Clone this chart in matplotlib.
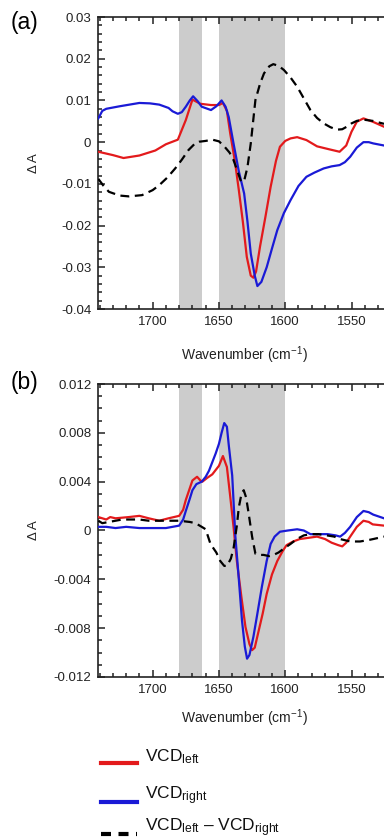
import numpy as np
import matplotlib
matplotlib.use('Agg')
import matplotlib.pyplot as plt
from matplotlib.lines import Line2D
from matplotlib.ticker import MultipleLocator, FixedLocator, FixedFormatter

plt.rcParams['font.family'] = ['Liberation Sans', 'DejaVu Sans']
plt.rcParams['mathtext.fontset'] = 'custom'
plt.rcParams['mathtext.rm'] = 'Liberation Sans'

# ---- panel (a) ----
a_red_wn = [1741, 1730, 1722, 1710, 1698, 1690, 1681, 1675, 1670, 1664, 1656, 1650, 1647, 1644,
            1641.5, 1638, 1635, 1632, 1629, 1626, 1624, 1622, 1619, 1615, 1611, 1607, 1604, 1600,
            1596, 1591, 1584, 1576, 1567, 1559, 1554, 1550, 1546, 1541, 1534, 1525.5]
a_red = [-0.0023, -0.0031, -0.0038, -0.0032, -0.0020, -0.0005, 0.0006, 0.0053, 0.0102, 0.0092,
         0.0089, 0.0089, 0.0094, 0.0075, 0.0021, -0.0045, -0.0115, -0.0190, -0.0275, -0.0320,
         -0.0325, -0.0310, -0.0250, -0.0180, -0.0107, -0.0045, -0.0011, 0.0003, 0.0009, 0.0012,
         0.0005, -0.0010, -0.0017, -0.0023, -0.0008, 0.0025, 0.0049, 0.0057, 0.0049, 0.0037]

a_blue_wn = [1741, 1738, 1735, 1725, 1710, 1702, 1695, 1688, 1685, 1681, 1678, 1675, 1672, 1669.5,
             1666, 1663, 1656, 1652, 1648, 1645, 1642.6, 1639, 1635, 1631, 1628.5, 1626, 1623,
             1621, 1618, 1614, 1610, 1606, 1601, 1596, 1590, 1584, 1578, 1571, 1565, 1559, 1555,
             1551, 1546, 1541, 1537, 1533.6, 1525.5]
a_blue = [0.0057, 0.0075, 0.0080, 0.0086, 0.0094, 0.0093, 0.0090, 0.0082, 0.0074, 0.0068, 0.0072,
          0.0085, 0.0100, 0.0110, 0.0098, 0.0085, 0.0077, 0.0086, 0.0100, 0.0085, 0.0060, -0.0003,
          -0.0070, -0.0123, -0.0190, -0.0267, -0.0320, -0.0345, -0.0335, -0.0300, -0.0255,
          -0.0211, -0.0170, -0.0139, -0.0105, -0.0083, -0.0073, -0.0063, -0.0058, -0.0055,
          -0.0048, -0.0035, -0.0013, 0.0000, 0.0000, -0.0003, -0.0008]

a_diff_wn = [1741, 1737, 1733, 1725, 1718, 1708, 1700, 1695, 1689, 1683, 1678, 1673, 1668, 1665,
             1660, 1655, 1650, 1646, 1642, 1639, 1636, 1633.3, 1631, 1628.5, 1626, 1622.5, 1619,
             1616, 1612, 1609, 1605, 1601, 1596, 1591, 1586, 1581, 1576, 1571, 1566, 1561, 1557,
             1553.6, 1550, 1546, 1541, 1534, 1525.5]
a_diff = [-0.0088, -0.0105, -0.0119, -0.0128, -0.0130, -0.0127, -0.0115, -0.0103, -0.0085,
          -0.0063, -0.0042, -0.0019, -0.0003, 0.0001, 0.0003, 0.0006, 0.0002, -0.0010, -0.0025,
          -0.0043, -0.0070, -0.0095, -0.0093, -0.0060, -0.0003, 0.0101, 0.0140, 0.0165, 0.0182,
          0.0187, 0.0183, 0.0173, 0.0155, 0.0133, 0.0105, 0.0077, 0.0058, 0.0045, 0.0036, 0.0030,
          0.0031, 0.0037, 0.0045, 0.0051, 0.0054, 0.0051, 0.0044]

# ---- panel (b) ----
b_red_wn = [1741, 1735, 1732, 1728, 1718, 1710, 1703, 1695, 1688, 1680, 1677, 1675, 1670, 1666.5,
            1664, 1662.5, 1659, 1655, 1650, 1647, 1644, 1641.4, 1639, 1636.5, 1633, 1630, 1627,
            1625, 1623, 1620, 1617, 1614, 1610, 1606, 1602, 1599, 1594, 1589, 1576, 1570, 1565,
            1560, 1557, 1554, 1551, 1546, 1541, 1537, 1534, 1525.5]
b_red = [0.0011, 0.0009, 0.0011, 0.0010, 0.0011, 0.0012, 0.0010, 0.0008, 0.0010, 0.0012, 0.0017,
         0.0025, 0.0041, 0.0044, 0.0041, 0.0040, 0.0043, 0.0046, 0.0053, 0.0061, 0.0052, 0.0027,
         0.0003, -0.0025, -0.0055, -0.0079, -0.0093, -0.0098, -0.0096, -0.0082, -0.0068,
         -0.0052, -0.0036, -0.0025, -0.0017, -0.0012, -0.0009, -0.0007, -0.0005, -0.0007,
         -0.0010, -0.0012, -0.0013, -0.0010, -0.0005, 0.0003, 0.0008, 0.0007, 0.0005, 0.0004]

b_blue_wn = [1741, 1735, 1728, 1720, 1710, 1700, 1690, 1680, 1677, 1675, 1672, 1670, 1667, 1663,
             1660, 1657.5, 1655, 1652.5, 1650, 1648, 1646, 1644, 1642.6, 1640, 1637.6, 1635,
             1632.6, 1630.5, 1628.8, 1627, 1624, 1621, 1617.6, 1614, 1611, 1608, 1604, 1598, 1591,
             1586, 1581, 1575, 1568, 1562, 1558.6, 1555, 1551, 1546, 1541, 1537, 1533.6, 1525.5]
b_blue = [0.0003, 0.0003, 0.0002, 0.0003, 0.0002, 0.0002, 0.0002, 0.0004, 0.0009, 0.0016, 0.0026,
          0.0033, 0.0038, 0.0040, 0.0044, 0.0049, 0.0056, 0.0063, 0.0071, 0.0080, 0.0088, 0.0085,
          0.0070, 0.0045, -0.0005, -0.0040, -0.0074, -0.0095, -0.0105, -0.0102, -0.0087,
          -0.0068, -0.0046, -0.0025, -0.0011, -0.0005, -0.0001, 0.0000, 0.0001, 0.0000,
          -0.0003, -0.0003, -0.0003, -0.0004, -0.0005, -0.0002, 0.0003, 0.0011, 0.0016, 0.0015,
          0.0013, 0.0010]

b_diff_wn = [1741, 1738, 1733, 1728, 1723, 1716, 1710, 1703, 1698, 1690, 1680, 1672, 1667.7,
             1663, 1660, 1656.4, 1652, 1649, 1646, 1643.9, 1641, 1638.9, 1636.5, 1635, 1633,
             1631.3, 1629.5, 1627.6, 1625, 1622.5, 1619, 1616.3, 1612, 1608.8, 1605, 1601.3, 1596,
             1591.2, 1586, 1581, 1575, 1568.7, 1563, 1558.6, 1551, 1543.6, 1538, 1533.6, 1525.5]
b_diff = [0.0008, 0.0006, 0.0007, 0.0008, 0.0009, 0.0009, 0.0009, 0.0008, 0.0008, 0.0008, 0.0008,
          0.0007, 0.0006, 0.0003, 0.0001, -0.0011, -0.0018, -0.0025, -0.0029, -0.0029, -0.0023,
          -0.0014, 0.0004, 0.0019, 0.0030, 0.0033, 0.0027, 0.0014, -0.0005, -0.0019, -0.0020,
          -0.0020, -0.0021, -0.0020, -0.0018, -0.0015, -0.0011, -0.0007, -0.0004, -0.0003,
          -0.0003, -0.0004, -0.0005, -0.0007, -0.0009, -0.0009, -0.0008, -0.0007, -0.0005]

bands = [(1680, 1663), (1650, 1600)]

a_yticks = [0.03, 0.02, 0.01, 0, -0.01, -0.02, -0.03, -0.04]
a_ylabels = ['0.03', '0.02', '0.01', '0', '-0.01', '-0.02', '-0.03', '-0.04']
b_yticks = [0.012, 0.008, 0.004, 0, -0.004, -0.008, -0.012]
b_ylabels = ['0.012', '0.008', '0.004', '0', '-0.004', '-0.008', '-0.012']
xticks = [1700, 1650, 1600, 1550]

red = '#e31a1c'
blue = '#1a1ad6'
lw = 1.6

fig = plt.figure(figsize=(3.84, 8.39), dpi=100)
ax1 = fig.add_axes([0.256, 0.6317, 0.744, 0.348])
ax2 = fig.add_axes([0.256, 0.1931, 0.744, 0.3492])


def style(ax, yticks, ylabels, yminor, ylim):
    for lo, hi in bands:
        ax.axvspan(lo, hi, color='#cccccc', lw=0, zorder=0)
    ax.set_xlim(1741, 1525.5)
    ax.set_ylim(*ylim)
    ax.xaxis.set_major_locator(FixedLocator(xticks))
    ax.xaxis.set_minor_locator(MultipleLocator(10))
    ax.yaxis.set_major_locator(FixedLocator(yticks))
    ax.yaxis.set_major_formatter(FixedFormatter(ylabels))
    ax.yaxis.set_minor_locator(MultipleLocator(yminor))
    ax.tick_params(which='both', direction='in', top=True, right=False, labelsize=9.5,
                   width=1.1, colors='#222222')
    ax.tick_params(which='major', length=5, pad=5)
    ax.tick_params(which='minor', length=3)
    ax.spines['right'].set_visible(False)
    for s in ['left', 'top', 'bottom']:
        ax.spines[s].set_linewidth(1.2)
        ax.spines[s].set_color('#222222')
    ax.set_xlabel('Wavenumber (cm$^{-1}$)', fontsize=10, color='#222222')
    ax.set_ylabel('\u0394 A', fontsize=9.5, color='#222222')
    ax.yaxis.set_label_coords(-0.205, 0.5)


ax1.plot(a_red_wn, a_red, color=red, lw=lw, zorder=3)
ax1.plot(a_blue_wn, a_blue, color=blue, lw=lw, zorder=3)
ax1.plot(a_diff_wn, a_diff, color='black', lw=lw, ls=(0, (4, 2.5)), zorder=4)
style(ax1, a_yticks, a_ylabels, 0.002, (-0.04, 0.03))
ax1.xaxis.set_label_coords(0.51, -0.12)

ax2.plot(b_red_wn, b_red, color=red, lw=lw, zorder=3)
ax2.plot(b_blue_wn, b_blue, color=blue, lw=lw, zorder=3)
ax2.plot(b_diff_wn, b_diff, color='black', lw=lw, ls=(0, (4, 2.5)), zorder=4)
style(ax2, b_yticks, b_ylabels, 0.001, (-0.012, 0.012))
ax2.xaxis.set_label_coords(0.51, -0.105)

fig.text(11 / 384, 1 - 23 / 839, '(a)', fontsize=16.5, va='center', ha='left')
fig.text(11 / 384, 1 - 383 / 839, '(b)', fontsize=16.5, va='center', ha='left')

# manual legend
leg_items = [(red, '-', r'$\mathregular{VCD_{left}}$', 763),
             (blue, '-', r'$\mathregular{VCD_{right}}$', 802),
             ('black', (0, (2.4, 1.8)), r'$\mathregular{VCD_{left}}$ \u2013 $\mathregular{VCD_{right}}$', 834)]
for col, ls, txt, ypx in leg_items:
    yf = 1 - ypx / 839
    fig.add_artist(Line2D([101 / 384, 137 / 384], [yf, yf], color=col, lw=3, ls=ls))
    fig.text(145 / 384, yf + 6 / 839, txt.replace('\\u2013', '\u2013'), fontsize=12.5,
             va='center', ha='left', color='#111111')

fig.savefig('out.png', dpi=100)
